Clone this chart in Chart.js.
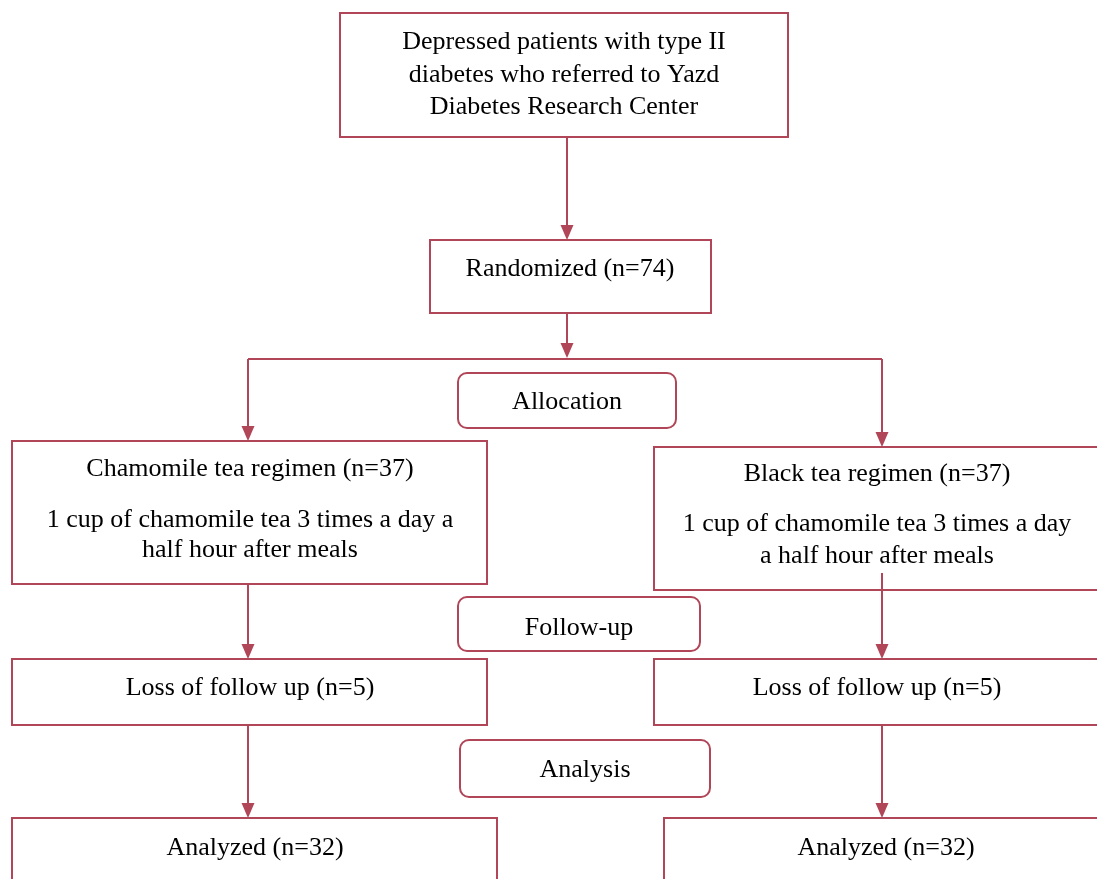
<!DOCTYPE html>
<html>
<head>
<meta charset="utf-8">
<script src="https://cdn.jsdelivr.net/npm/chart.js@4.4.1/dist/chart.umd.min.js"></script>
<style>
  html, body { margin: 0; padding: 0; background: #fff; }
  #wrap { width: 1097px; height: 879px; position: relative; }
</style>
</head>
<body>
<div id="wrap"><canvas id="chart"></canvas></div>
<script>
// DATA
const sourceLines = ["Depressed patients with type II", "diabetes who referred to Yazd", "Diabetes Research Center"];
const randomized = 74;
const stages = ["Allocation", "Follow-up", "Analysis"];
const groups = ["Chamomile tea regimen", "Black tea regimen"];
const allocated = [37, 37];
const lost = [5, 5];
const analyzed = [32, 32];
const regimenLines = [
  ["1 cup of chamomile tea 3 times a day a", "half hour after meals"],
  ["1 cup of chamomile tea 3 times a day", "a half hour after meals"],
];

// LAYOUT (page units, drawn through the x / y scales)
const boxes = {
  source: { x0: 340, x1: 788, y0: 13, y1: 137, text: [42, 75, 107] },
  random: { x0: 430, x1: 711, y0: 240, y1: 313, text: [269] },
  groupBox: [
    { x0: 12, x1: 487, y0: 441, y1: 584, text: [469, 520, 550] },
    { x0: 654, x1: 1110, y0: 447, y1: 590, text: [474, 524, 556] },
  ],
  lostBox: [
    { x0: 12, x1: 487, y0: 659, y1: 725, text: [688] },
    { x0: 654, x1: 1110, y0: 659, y1: 725, text: [688] },
  ],
  analyzedBox: [
    { x0: 12, x1: 497, y0: 818, y1: 900, text: [848] },
    { x0: 664, x1: 1110, y0: 818, y1: 900, text: [848] },
  ],
  stageBox: [
    { x0: 458, x1: 676, y0: 373, y1: 428, text: [402] },
    { x0: 458, x1: 700, y0: 597, y1: 651, text: [628] },
    { x0: 460, x1: 710, y0: 740, y1: 797, text: [770] },
  ],
};
const colCenters = [248, 882];
const textCenters = [250, 877];

const LINE = "rgb(176, 70, 88)";
const FONT = "26px 'Liberation Serif', 'Times New Roman', serif";

const flowPlugin = {
  id: "flow",
  afterDraw(chart) {
    const ctx = chart.ctx;
    const sx = chart.scales.x, sy = chart.scales.y;
    const px = (v) => sx.getPixelForValue(v);
    const py = (v) => sy.getPixelForValue(v);

    ctx.save();
    ctx.strokeStyle = LINE;
    ctx.lineWidth = 2;

    function rect(b, radius) {
      const x = px(b.x0), y = py(b.y0), w = px(b.x1) - x, h = py(b.y1) - y;
      ctx.beginPath();
      if (radius) ctx.roundRect(x, y, w, h, radius);
      else ctx.rect(x, y, w, h);
      ctx.fillStyle = "#fff";
      ctx.fill();
      ctx.strokeStyle = LINE;
      ctx.stroke();
    }
    function text(lines, cx, ys) {
      ctx.fillStyle = "#000";
      ctx.font = FONT;
      ctx.textAlign = "center";
      ctx.textBaseline = "middle";
      lines.forEach((t, i) => ctx.fillText(t, px(cx), py(ys[i])));
    }
    function line(x0, y0, x1, y1) {
      ctx.strokeStyle = LINE;
      ctx.beginPath();
      ctx.moveTo(px(x0), py(y0));
      ctx.lineTo(px(x1), py(y1));
      ctx.stroke();
    }
    function arrow(x, y0, y1) {
      line(x, y0, x, y1 - 12);
      ctx.fillStyle = LINE;
      ctx.beginPath();
      ctx.moveTo(px(x) - 6.5, py(y1 - 15));
      ctx.lineTo(px(x) + 6.5, py(y1 - 15));
      ctx.lineTo(px(x), py(y1));
      ctx.closePath();
      ctx.fill();
    }

    // connectors
    arrow(567, 137, 240);
    arrow(567, 313, 358);
    line(colCenters[0], 359, colCenters[1], 359);
    colCenters.forEach((c, i) => {
      arrow(c, 359, boxes.groupBox[i].y0);
      arrow(c, boxes.groupBox[i].y1, boxes.lostBox[i].y0);
      arrow(c, boxes.lostBox[i].y1, boxes.analyzedBox[i].y0);
    });

    // boxes
    rect(boxes.source);
    text(sourceLines, 564, boxes.source.text);
    rect(boxes.random);
    text(["Randomized (n=" + randomized + ")"], 570, boxes.random.text);

    groups.forEach((g, i) => {
      const b = boxes.groupBox[i];
      rect(b);
      text([g + " (n=" + allocated[i] + ")"].concat(regimenLines[i]), textCenters[i], b.text);
      const l = boxes.lostBox[i];
      rect(l);
      text(["Loss of follow up (n=" + lost[i] + ")"], textCenters[i], l.text);
      const a = boxes.analyzedBox[i];
      rect(a);
      text(["Analyzed (n=" + analyzed[i] + ")"], i === 0 ? 255 : 886, a.text);
    });

    // right arm line passes over the black tea box text
    line(colCenters[1], 573, colCenters[1], 590);

    stages.forEach((s, i) => {
      const b = boxes.stageBox[i];
      rect(b, 9);
      text([s], (b.x0 + b.x1) / 2, b.text);
    });
    ctx.restore();
  },
};

// CONFIG
const config = {
  type: "scatter",
  data: { datasets: [{ data: [], pointRadius: 0 }] },
  options: {
    responsive: true,
    maintainAspectRatio: false,
    animation: false,
    layout: { padding: 0 },
    scales: {
      x: { type: "linear", min: 0, max: 1097, display: false },
      y: { type: "linear", min: 0, max: 879, reverse: true, display: false },
    },
    plugins: { legend: { display: false }, tooltip: { enabled: false } },
  },
  plugins: [flowPlugin],
};

// RENDER INIT
const chart = new Chart(document.getElementById("chart"), config);
</script>
</body>
</html>
